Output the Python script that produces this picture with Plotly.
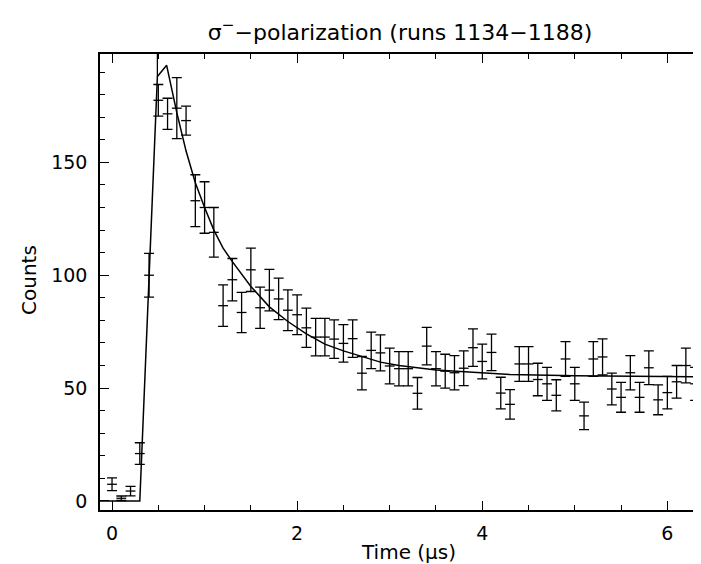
import plotly.graph_objects as go

# measured counts per 0.1 us bin
time = [round(0.1 * i, 1) for i in range(65)]
counts = [7.4, 1.2, 4.4, 21.0, 100.0, 177.5, 171.5, 174.0, 168.5, 133.0,
          130.0, 119.0, 86.5, 98.0, 83.5, 102.4, 85.6, 93.4, 89.5, 84.5,
          82.5, 76.7, 72.6, 72.6, 71.7, 69.8, 71.9, 56.6, 66.7, 65.6,
          59.8, 58.6, 58.6, 47.7, 68.6, 58.6, 57.5, 56.8, 58.8, 67.9,
          61.8, 65.8, 47.8, 42.8, 60.7, 60.7, 53.8, 51.9, 46.8, 62.9,
          51.9, 37.7, 62.9, 63.8, 49.6, 45.9, 56.8, 45.9, 59.0, 44.8,
          48.0, 52.8, 60.0, 51.9, 57.6]
errors = [2.8, 1.0, 2.1, 4.8, 9.7, 7.0, 6.9, 13.5, 6.4, 11.5,
          11.4, 11.0, 9.2, 9.4, 8.9, 9.6, 9.1, 9.2, 9.2, 9.0,
          8.8, 8.7, 8.3, 8.3, 8.5, 8.3, 8.3, 7.4, 8.1, 8.0,
          7.9, 7.6, 7.6, 7.0, 8.3, 7.6, 7.5, 7.6, 7.7, 8.3,
          7.7, 8.1, 7.0, 6.5, 7.7, 7.7, 7.2, 7.3, 6.9, 7.7,
          7.3, 6.1, 7.7, 8.0, 7.0, 6.6, 7.6, 6.6, 7.5, 6.6,
          7.2, 7.2, 7.7, 7.3, 7.6]

# fit curve
fit_t = [-0.13, 0.30, 0.49, 0.59, 0.70, 0.80, 0.90, 1.00, 1.10, 1.20, 1.30,
         1.50, 1.70, 1.90, 2.10, 2.30, 2.50, 2.70, 2.90, 3.10, 3.30, 3.50,
         3.90, 4.30, 5.00, 5.70, 6.47]
fit_counts = [0, 0, 188, 193, 172, 155, 141, 130, 120, 112, 106,
              95, 86, 79.5, 74, 69.5, 66.5, 64, 61.5, 60, 59, 58,
              57, 56, 55.5, 55.2, 55]

# marker line at the peak
mark_t = [0.49, 0.49]
mark_counts = [188, 198]

tick_font = dict(family="DejaVu Sans", size=19, color="black")
label_font = dict(family="DejaVu Sans", size=20, color="black")

fig = go.Figure()
fig.add_trace(go.Scatter(x=fit_t, y=fit_counts, mode='lines',
                         line=dict(color='black', width=1.5), showlegend=False))
fig.add_trace(go.Scatter(x=mark_t, y=mark_counts, mode='lines',
                         line=dict(color='black', width=1.3), showlegend=False))
fig.add_trace(go.Scatter(
    x=time, y=counts, mode='markers',
    marker=dict(symbol='line-ew', size=7, line=dict(color='black', width=1.3)),
    error_y=dict(type='data', array=errors, color='black', thickness=1.3, width=5),
    showlegend=False,
))

axis_common = dict(
    showgrid=False, zeroline=False, automargin=False,
    showline=True, linecolor='black', linewidth=1.5,
    ticks='inside', tickcolor='black', tickwidth=1.3,
    tickfont=tick_font,
)

fig.update_layout(
    width=701, height=564,
    margin=dict(t=46, r=0, b=62, l=92),
    paper_bgcolor='white', plot_bgcolor='white',
    title=dict(text="σ<sup>−</sup>−polarization (runs 1134−1188)",
               x=392 / 701, xanchor='center', y=1 - 24 / 564, yanchor='middle',
               font=dict(family="DejaVu Sans", size=22, color="black")),
    xaxis=dict(
        range=[-0.13, 6.45], tickmode='linear', tick0=0, dtick=2, ticklen=9,
        mirror='ticks', ticklabelstandoff=5,
        minor=dict(dtick=0.5, tick0=0, ticklen=5, ticks='inside', tickcolor='black'),
        **axis_common,
    ),
    yaxis=dict(
        range=[-4, 198], tickmode='linear', tick0=0, dtick=50, ticklen=9,
        mirror=False, ticklabelstandoff=7,
        minor=dict(dtick=10, tick0=0, ticklen=5, ticks='inside', tickcolor='black'),
        **axis_common,
    ),
    # paper coords are relative to the plot area (92..701 x 46..502)
    annotations=[
        dict(text="Time (μs)", x=(400 - 92) / 609, y=(502 - 544) / 456,
             xref='paper', yref='paper', xanchor='center', yanchor='middle',
             showarrow=False, font=label_font),
        dict(text="Counts", x=(21 - 92) / 609, y=(502 - 272) / 456,
             xref='paper', yref='paper', xanchor='center', yanchor='middle',
             showarrow=False, textangle=-90, font=label_font),
    ],
)

fig.write_html("out.html")
